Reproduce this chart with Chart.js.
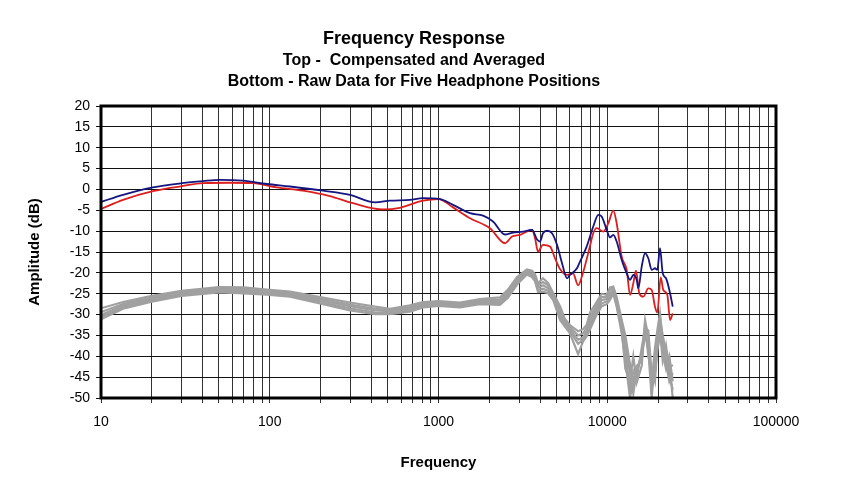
<!DOCTYPE html>
<html>
<head>
<meta charset="utf-8">
<script src="https://cdn.jsdelivr.net/npm/chart.js@4/dist/chart.umd.min.js"></script>
<style>
  html, body { margin: 0; padding: 0; background: #fff; }
  canvas { display: block; }
</style>
</head>
<body>
<canvas id="c" width="851" height="500"></canvas>
<script>
// ---- Text ----
const titleText = 'Frequency Response';
const subtitleLines = ['Top -  Compensated and Averaged', 'Bottom - Raw Data for Five Headphone Positions'];
const xAxisTitle = 'Frequency';
const yAxisTitle = 'Amplitude (dB)';

// ---- Tick labels ----
const xMajorTicks = [10, 100, 1000, 10000, 100000];
const yMin = -50, yMax = 20, yStep = 5;

// ---- Compensated and averaged (top) ----
const freqBlue = [10, 13.5, 20.3, 30.2, 40.2, 50.7, 69.4, 96.3, 132, 207, 299, 421, 516, 678, 809, 1021, 1219, 1537, 1836, 2104, 2478, 2727, 3170, 3584, 3839, 3993, 4159, 4395, 4707, 5040, 5396, 5775, 6011, 6616, 6894, 7551, 8260, 8850, 9268, 9930, 10380, 10860, 11370, 12180, 13040, 13650, 14270, 14950, 15280, 16000, 16750, 17510, 18340, 19180, 19800, 20540, 21320, 22290, 23330, 24440];
const ampBlue = [-3.0, -1.3, 0.5, 1.5, 2.0, 2.3, 2.1, 1.3, 0.7, -0.3, -1.3, -3.1, -2.7, -2.5, -2.1, -2.3, -3.7, -5.7, -6.3, -7.7, -10.8, -10.4, -10.1, -9.7, -12.0, -12.5, -10.5, -9.9, -10.5, -13.3, -17.7, -21.3, -20.5, -18.9, -17.3, -13.7, -8.9, -6.1, -6.5, -9.7, -11.5, -10.9, -12.5, -16.9, -20.1, -21.7, -20.5, -21.7, -23.7, -18.5, -15.3, -16.5, -19.3, -18.9, -19.3, -14.1, -20.1, -21.3, -24.1, -28.1];

const freqRed = [10, 13.5, 20.3, 30.2, 40.2, 58, 79.6, 110, 157, 227, 311, 469, 591, 809, 1000, 1219, 1537, 2018, 2478, 2727, 3041, 3584, 3733, 3887, 4159, 4581, 4900, 5248, 5775, 6266, 6720, 7180, 7910, 8260, 8650, 9480, 10150, 10860, 11370, 12180, 13040, 13650, 14270, 14800, 15490, 16360, 17510, 18340, 19180, 19800, 20740, 21490, 22700, 23560, 24440];
const ampRed = [-4.7, -2.5, -0.4, 0.8, 1.5, 1.6, 1.5, 0.5, -0.3, -1.6, -3.3, -4.8, -4.4, -2.7, -2.3, -4.3, -6.9, -9.3, -12.9, -11.3, -10.9, -9.7, -11.7, -14.9, -13.3, -13.7, -16.5, -19.1, -20.5, -20.1, -23.0, -20.0, -13.5, -10.5, -9.3, -10.1, -8.1, -5.1, -8.1, -16.1, -19.3, -25.3, -22.5, -19.5, -24.9, -25.7, -23.7, -24.1, -28.1, -29.5, -21.1, -24.1, -25.3, -31.3, -29.7];

// ---- Raw data, five headphone positions (bottom) ----
const freqRaw = [10, 13.5, 20, 30, 50, 70, 96, 132, 207, 299, 421, 516, 678, 809, 1000, 1340, 1760, 2310, 2580, 2920, 3340, 3580, 3730, 3890, 4160, 4460, 4780, 5250, 5600, 6010, 6720, 7180, 7550, 7910, 8650, 9270, 9930, 10380, 10860, 11370, 12180, 12800, 13650, 14270, 14950, 16000, 16750, 17510, 18340, 19180, 19800, 20540, 21320, 22290, 23330, 24440];
const raw1 = [-28.5, -27.0, -25.5, -24.3, -23.4, -23.5, -24.0, -24.5, -25.9, -27.1, -28.1, -28.6, -27.8, -27.0, -26.8, -27.1, -26.3, -25.9, -24.0, -21.0, -19.2, -19.5, -20.3, -22.5, -21.3, -22.4, -24.8, -28.0, -31.0, -32.5, -34.0, -33.5, -32.5, -29.5, -27.0, -25.0, -25.3, -23.5, -23.3, -25.8, -31.3, -35.0, -42.0, -47.0, -42.3, -41.2, -31.3, -35.3, -46.0, -38.0, -33.8, -29.7, -36.5, -40.2, -44.5, -48.0];
const raw2 = [-29.4, -27.5, -25.9, -24.6, -23.7, -23.8, -24.3, -24.8, -26.3, -27.6, -28.6, -28.9, -28.2, -27.4, -27.1, -27.4, -26.6, -26.4, -24.5, -21.4, -19.5, -19.8, -20.7, -23.0, -22.2, -23.0, -25.3, -28.8, -31.5, -33.0, -35.0, -34.5, -33.2, -30.5, -27.8, -25.8, -25.8, -24.2, -23.7, -26.4, -32.0, -39.0, -48.0, -43.5, -45.3, -38.0, -33.3, -33.8, -44.5, -42.0, -36.2, -31.0, -35.0, -38.8, -41.5, -50.0];
const raw3 = [-30.1, -27.9, -26.2, -24.9, -24.0, -24.1, -24.6, -25.1, -26.7, -28.0, -29.0, -29.2, -28.6, -27.7, -27.4, -27.7, -26.9, -26.8, -25.0, -21.8, -19.8, -20.2, -21.2, -23.6, -23.0, -23.7, -25.7, -29.6, -32.0, -33.5, -36.0, -35.5, -34.0, -31.5, -28.5, -26.5, -26.3, -25.0, -24.2, -27.0, -32.8, -37.0, -44.0, -49.0, -43.2, -40.0, -34.3, -38.5, -50.0, -40.0, -35.0, -34.0, -41.0, -37.4, -43.0, -42.0];
const raw4 = [-30.6, -28.3, -26.6, -25.2, -24.4, -24.5, -24.9, -25.4, -27.1, -28.5, -29.5, -29.6, -29.0, -28.0, -27.6, -28.0, -27.2, -27.2, -25.5, -22.3, -20.1, -20.6, -21.6, -24.1, -23.8, -24.3, -26.1, -30.5, -32.5, -34.0, -37.0, -36.0, -34.7, -32.5, -29.3, -27.3, -26.9, -25.8, -24.6, -27.6, -33.6, -43.0, -46.0, -40.0, -46.3, -42.3, -32.3, -40.0, -43.0, -46.0, -37.4, -32.5, -39.5, -43.0, -40.0, -46.0];
const raw5 = [-31.1, -28.6, -26.9, -25.5, -24.7, -24.9, -25.2, -25.7, -27.5, -29.0, -29.9, -29.9, -29.3, -28.3, -27.9, -28.3, -27.5, -27.7, -26.0, -22.8, -20.4, -21.0, -22.0, -24.6, -24.5, -24.9, -26.5, -31.3, -32.8, -34.5, -39.5, -36.5, -35.2, -33.5, -30.0, -28.0, -27.5, -26.5, -25.0, -28.1, -34.5, -41.0, -50.0, -45.0, -44.3, -39.0, -35.3, -36.8, -48.0, -44.0, -38.5, -35.3, -38.0, -41.6, -46.0, -44.0];

// ---- Styles ----
const blueColor = '#15157f';
const redColor = '#dc1e1e';
const grayColor = '#a0a0a0';
const fontFamily = '"Liberation Sans", Arial, sans-serif';

function toPoints(xs, ys) { return xs.map((x, i) => ({ x: x, y: ys[i] })); }

// Log-scale ticks: 1..9 x each decade (grid lines), labels only on decades
const xTickValues = [];
for (let d = 0; d < xMajorTicks.length - 1; d++) {
  for (let m = 1; m <= 9; m++) xTickValues.push(xMajorTicks[d] * m);
}
xTickValues.push(xMajorTicks[xMajorTicks.length - 1]);

const rawSets = [raw1, raw2, raw3, raw4, raw5].map((r, i) => ({
  label: 'Position ' + (i + 1),
  data: toPoints(freqRaw, r),
  borderColor: grayColor,
  borderWidth: 2.2,
  pointRadius: 0,
  tension: 0,
  fill: false
}));

const framePlugin = {
  id: 'frame',
  afterDatasetsDraw(chart) {
    const { ctx, chartArea: a } = chart;
    ctx.save();
    ctx.strokeStyle = '#000';
    ctx.lineWidth = 3;
    ctx.strokeRect(a.left, a.top, a.right - a.left, a.bottom - a.top);
    ctx.restore();
  }
};

new Chart(document.getElementById('c'), {
  type: 'line',
  data: {
    datasets: [
      { label: 'Compensated L', data: toPoints(freqBlue, ampBlue), borderColor: blueColor, borderWidth: 1.8, pointRadius: 0, cubicInterpolationMode: 'monotone', fill: false },
      { label: 'Compensated R', data: toPoints(freqRed, ampRed), borderColor: redColor, borderWidth: 1.8, pointRadius: 0, cubicInterpolationMode: 'monotone', fill: false },
      ...rawSets
    ]
  },
  options: {
    responsive: false,
    animation: false,
    layout: { padding: { left: 0, right: 23, top: 0, bottom: 0 } },
    plugins: {
      legend: { display: false },
      tooltip: { enabled: false },
      title: {
        display: true, text: titleText, color: '#000',
        font: { family: fontFamily, size: 18, weight: 'bold', lineHeight: 1.2 },
        padding: { top: 28.5, bottom: 0 }
      },
      subtitle: {
        display: true, text: subtitleLines, color: '#000',
        font: { family: fontFamily, size: 16, weight: 'bold', lineHeight: 1.3125 },
        padding: { top: 0.4, bottom: 13.5 }
      }
    },
    scales: {
      x: {
        type: 'logarithmic',
        min: xMajorTicks[0],
        max: xMajorTicks[xMajorTicks.length - 1],
        afterBuildTicks(scale) { scale.ticks = xTickValues.map(v => ({ value: v })); },
        afterFit(scale) { scale.height = 102; },
        ticks: {
          autoSkip: false, maxRotation: 0, minRotation: 0, padding: 11, color: '#000',
          font: { family: fontFamily, size: 14 },
          callback: (v) => xMajorTicks.includes(v) ? String(v) : ''
        },
        grid: { color: '#333', lineWidth: 1, tickLength: 5, drawTicks: true },
        border: { display: false },
        title: {
          display: true, text: xAxisTitle, color: '#000',
          font: { family: fontFamily, size: 15, weight: 'bold', lineHeight: 1.2 },
          padding: { top: 0, bottom: 28 }
        }
      },
      y: {
        type: 'linear',
        min: yMin, max: yMax,
        afterFit(scale) { scale.width = 101; },
        ticks: {
          stepSize: yStep, padding: 6, color: '#000',
          font: { family: fontFamily, size: 14 }
        },
        grid: { color: '#111', lineWidth: 1, tickLength: 5, drawTicks: true },
        border: { display: false },
        title: {
          display: true, text: yAxisTitle, color: '#000',
          font: { family: fontFamily, size: 15, weight: 'bold', lineHeight: 1.2 },
          padding: { top: 26, bottom: 0 }
        }
      },
      yRightSpace: {
        type: 'linear', position: 'right',
        min: yMin, max: yMax,
        afterFit(scale) { scale.width = 52; },
        ticks: { display: false },
        grid: { display: false, drawOnChartArea: false },
        border: { display: false }
      }
    }
  },
  plugins: [framePlugin]
});
</script>
</body>
</html>
